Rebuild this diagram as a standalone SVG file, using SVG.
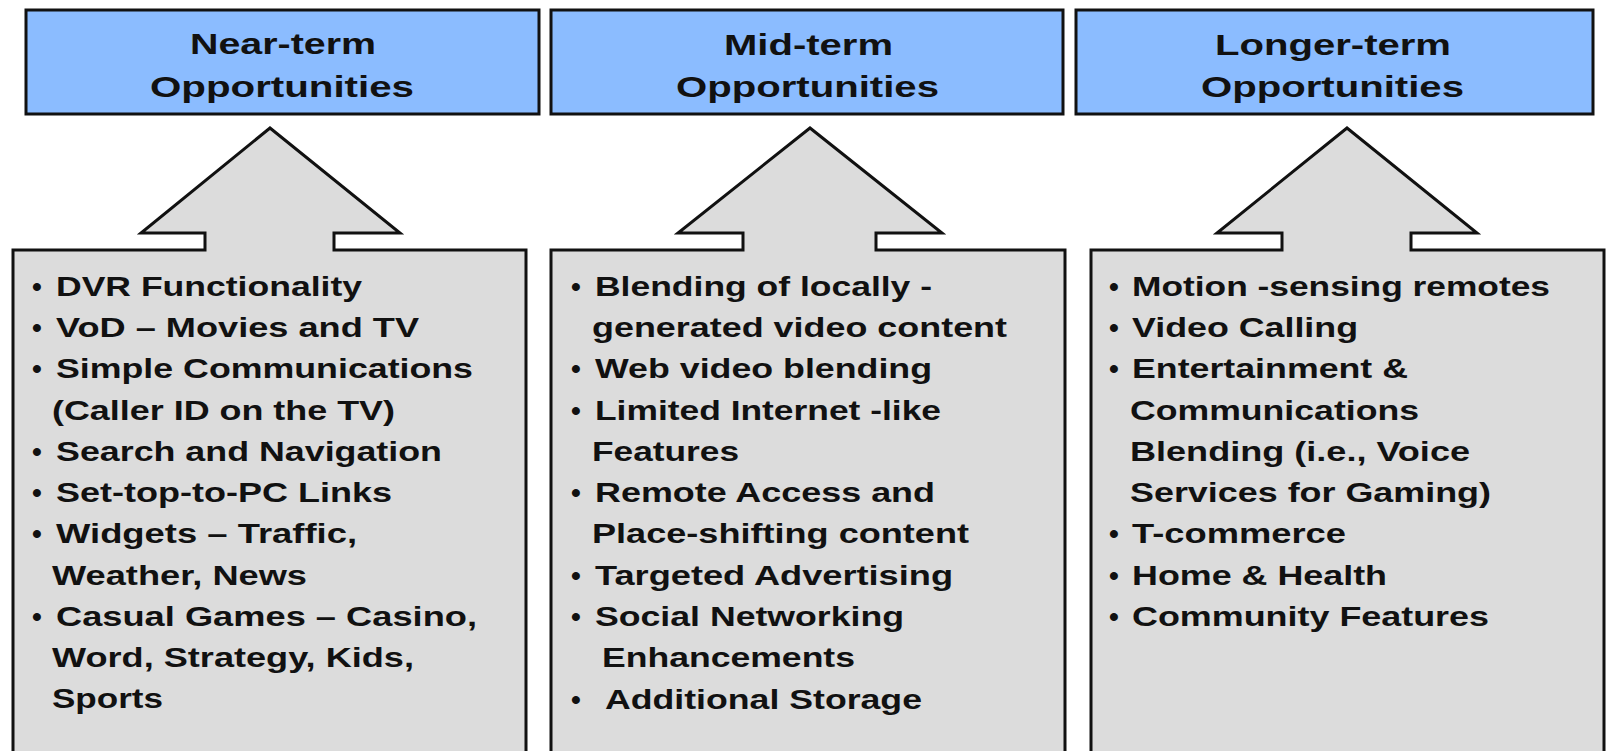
<svg xmlns="http://www.w3.org/2000/svg" width="1612" height="751" viewBox="0 0 1612 751">
<style>
.hdr{fill:#8bbcff;stroke:#111;stroke-width:3}
.blk{fill:#dcdcdc;stroke:#111;stroke-width:3;stroke-linejoin:miter}
.ht{font-family:"Liberation Sans",Arial,sans-serif;font-weight:bold;font-size:30px;fill:#111}
.bt{font-family:"Liberation Sans",Arial,sans-serif;font-weight:bold;font-size:28px;fill:#111}
.bu{font-family:"Liberation Sans",Arial,sans-serif;font-weight:bold;font-size:28px;fill:#111}
</style>
<rect width="1612" height="751" fill="#ffffff"/>
<g id="connectors">
<path class="blk" d="M13,250 L205,250 L205,233 L141,233 L270,128 L400,233 L334,233 L334,250 L526,250 L526,753 L13,753 Z"/>
<path class="blk" d="M551,250 L743,250 L743,233 L678,233 L810,128 L942,233 L876,233 L876,250 L1065,250 L1065,753 L551,753 Z"/>
<path class="blk" d="M1091,250 L1282,250 L1282,233 L1217,233 L1347,128 L1477,233 L1411,233 L1411,250 L1604,250 L1604,753 L1091,753 Z"/>
</g>
<g id="near-header">
<rect class="hdr" x="26" y="10" width="513" height="104"/>
<text class="ht" x="190" y="54" textLength="186" lengthAdjust="spacingAndGlyphs">Near-term</text>
<text class="ht" x="150" y="97" textLength="264" lengthAdjust="spacingAndGlyphs">Opportunities</text>
</g>
<g id="mid-header">
<rect class="hdr" x="551" y="10" width="512" height="104"/>
<text class="ht" x="724" y="55" textLength="169" lengthAdjust="spacingAndGlyphs">Mid-term</text>
<text class="ht" x="676" y="97" textLength="263" lengthAdjust="spacingAndGlyphs">Opportunities</text>
</g>
<g id="long-header">
<rect class="hdr" x="1076" y="10" width="517" height="104"/>
<text class="ht" x="1215" y="55" textLength="236" lengthAdjust="spacingAndGlyphs">Longer-term</text>
<text class="ht" x="1201" y="97" textLength="263" lengthAdjust="spacingAndGlyphs">Opportunities</text>
</g>
<g id="near-list">
<text class="bu" x="32" y="296">•</text>
<text class="bt" x="56" y="296" textLength="306" lengthAdjust="spacingAndGlyphs">DVR Functionality</text>
<text class="bu" x="32" y="337">•</text>
<text class="bt" x="56" y="337" textLength="363" lengthAdjust="spacingAndGlyphs">VoD – Movies and TV</text>
<text class="bu" x="32" y="378">•</text>
<text class="bt" x="56" y="378" textLength="417" lengthAdjust="spacingAndGlyphs">Simple Communications</text>
<text class="bt" x="52" y="420" textLength="343" lengthAdjust="spacingAndGlyphs">(Caller ID on the TV)</text>
<text class="bu" x="32" y="461">•</text>
<text class="bt" x="56" y="461" textLength="386" lengthAdjust="spacingAndGlyphs">Search and Navigation</text>
<text class="bu" x="32" y="502">•</text>
<text class="bt" x="56" y="502" textLength="336" lengthAdjust="spacingAndGlyphs">Set-top-to-PC Links</text>
<text class="bu" x="32" y="543">•</text>
<text class="bt" x="56" y="543" textLength="301" lengthAdjust="spacingAndGlyphs">Widgets – Traffic,</text>
<text class="bt" x="52" y="585" textLength="255" lengthAdjust="spacingAndGlyphs">Weather, News</text>
<text class="bu" x="32" y="626">•</text>
<text class="bt" x="56" y="626" textLength="421" lengthAdjust="spacingAndGlyphs">Casual Games – Casino,</text>
<text class="bt" x="52" y="667" textLength="362" lengthAdjust="spacingAndGlyphs">Word, Strategy, Kids,</text>
<text class="bt" x="52" y="708" textLength="111" lengthAdjust="spacingAndGlyphs">Sports</text>
</g>
<g id="mid-list">
<text class="bu" x="571" y="296">•</text>
<text class="bt" x="595" y="296" textLength="337" lengthAdjust="spacingAndGlyphs">Blending of locally -</text>
<text class="bt" x="592" y="337" textLength="415" lengthAdjust="spacingAndGlyphs">generated video content</text>
<text class="bu" x="571" y="378">•</text>
<text class="bt" x="595" y="378" textLength="337" lengthAdjust="spacingAndGlyphs">Web video blending</text>
<text class="bu" x="571" y="420">•</text>
<text class="bt" x="595" y="420" textLength="346" lengthAdjust="spacingAndGlyphs">Limited Internet -like</text>
<text class="bt" x="592" y="461" textLength="147" lengthAdjust="spacingAndGlyphs">Features</text>
<text class="bu" x="571" y="502">•</text>
<text class="bt" x="595" y="502" textLength="340" lengthAdjust="spacingAndGlyphs">Remote Access and</text>
<text class="bt" x="592" y="543" textLength="377" lengthAdjust="spacingAndGlyphs">Place-shifting content</text>
<text class="bu" x="571" y="585">•</text>
<text class="bt" x="595" y="585" textLength="358" lengthAdjust="spacingAndGlyphs">Targeted Advertising</text>
<text class="bu" x="571" y="626">•</text>
<text class="bt" x="595" y="626" textLength="309" lengthAdjust="spacingAndGlyphs">Social Networking</text>
<text class="bt" x="602" y="667" textLength="253" lengthAdjust="spacingAndGlyphs">Enhancements</text>
<text class="bu" x="571" y="709">•</text>
<text class="bt" x="605" y="709" textLength="317" lengthAdjust="spacingAndGlyphs">Additional Storage</text>
</g>
<g id="long-list">
<text class="bu" x="1109" y="296">•</text>
<text class="bt" x="1132" y="296" textLength="418" lengthAdjust="spacingAndGlyphs">Motion -sensing remotes</text>
<text class="bu" x="1109" y="337">•</text>
<text class="bt" x="1132" y="337" textLength="226" lengthAdjust="spacingAndGlyphs">Video Calling</text>
<text class="bu" x="1109" y="378">•</text>
<text class="bt" x="1132" y="378" textLength="276" lengthAdjust="spacingAndGlyphs">Entertainment &amp;</text>
<text class="bt" x="1130" y="420" textLength="289" lengthAdjust="spacingAndGlyphs">Communications</text>
<text class="bt" x="1130" y="461" textLength="340" lengthAdjust="spacingAndGlyphs">Blending (i.e., Voice</text>
<text class="bt" x="1130" y="502" textLength="361" lengthAdjust="spacingAndGlyphs">Services for Gaming)</text>
<text class="bu" x="1109" y="543">•</text>
<text class="bt" x="1132" y="543" textLength="214" lengthAdjust="spacingAndGlyphs">T-commerce</text>
<text class="bu" x="1109" y="585">•</text>
<text class="bt" x="1132" y="585" textLength="255" lengthAdjust="spacingAndGlyphs">Home &amp; Health</text>
<text class="bu" x="1109" y="626">•</text>
<text class="bt" x="1132" y="626" textLength="357" lengthAdjust="spacingAndGlyphs">Community Features</text>
</g>
</svg>
